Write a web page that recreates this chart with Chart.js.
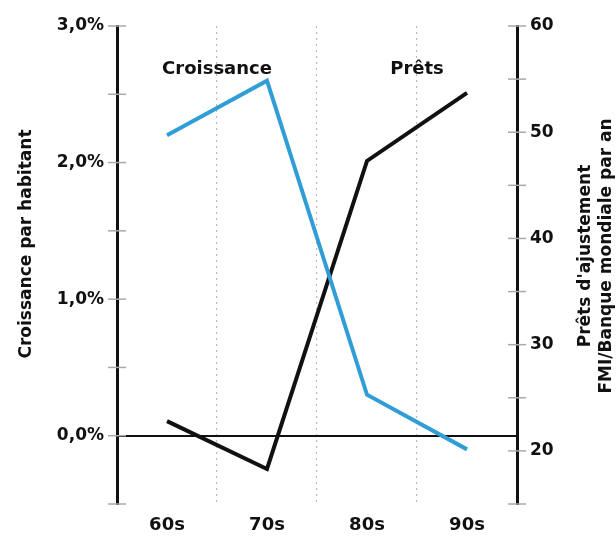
<!DOCTYPE html>
<html>
<head>
<meta charset="utf-8">
<script src="https://cdn.jsdelivr.net/npm/chart.js@4/dist/chart.umd.min.js"></script>
<style>
  body { margin: 0; background: #fff; }
  #wrap { width: 616px; height: 536px; }
</style>
</head>
<body>
<div id="wrap"><canvas id="chart" width="616" height="536"></canvas></div>
<script>
const categories = ['60s', '70s', '80s', '90s'];
const croissance = [2.2, 2.6, 0.3, -0.1];
const prets = [22.8, 18.3, 47.3, 53.7];
const seriesLabels = ['Croissance', 'Prêts'];
const leftTitle = 'Croissance par habitant';
const rightTitle = ["Prêts d'ajustement", 'FMI/Banque mondiale par an'];

const FONT = "'DejaVu Sans', sans-serif";
const INK = '#111';

const fmtPct = (v) => {
    if (Math.abs(v - Math.round(v)) > 1e-9) return '';
    return v.toFixed(1).replace('.', ',') + '%';
};

// short grey tick marks crossing both y axis lines
const crossTicks = {
    id: 'crossTicks',
    afterDraw(chart) {
        const ctx = chart.ctx;
        ctx.save();
        ctx.strokeStyle = '#a9a9a9';
        ctx.lineWidth = 1.5;
        ['y', 'y1'].forEach((id) => {
            const s = chart.scales[id];
            const x = id === 'y' ? chart.chartArea.left : chart.chartArea.right;
            s.ticks.forEach((t) => {
                const py = s.getPixelForValue(t.value);
                ctx.beginPath();
                ctx.moveTo(x - 9, py);
                ctx.lineTo(x + 9, py);
                ctx.stroke();
            });
        });
        ctx.restore();
    }
};

// series names and both axis titles
const texts = {
    id: 'texts',
    afterDatasetsDraw(chart) {
        const ctx = chart.ctx;
        const x = chart.scales.x;
        const y = chart.scales.y;
        ctx.save();
        ctx.fillStyle = INK;
        ctx.font = 'bold 18px ' + FONT;
        ctx.textAlign = 'center';
        ctx.textBaseline = 'middle';
        ctx.fillText(seriesLabels[0], x.getPixelForValue(0.5), y.getPixelForValue(2.68));
        ctx.fillText(seriesLabels[1], x.getPixelForValue(2.5), y.getPixelForValue(2.68));

        ctx.font = 'bold 17px ' + FONT;
        ctx.save();
        ctx.translate(27, 244);
        ctx.rotate(-Math.PI / 2);
        ctx.fillText(leftTitle, 0, 0);
        ctx.restore();

        ctx.translate(586, 256);
        ctx.rotate(-Math.PI / 2);
        ctx.fillText(rightTitle[0], 0, 0);
        ctx.fillText(rightTitle[1], 0, 21);
        ctx.restore();
    }
};

new Chart(document.getElementById('chart'), {
    type: 'line',
    data: {
        labels: categories,
        datasets: [
            {
                label: seriesLabels[0],
                data: croissance,
                yAxisID: 'y',
                borderColor: '#319dd6',
                borderWidth: 4,
                pointRadius: 0,
                tension: 0
            },
            {
                label: seriesLabels[1],
                data: prets,
                yAxisID: 'y1',
                borderColor: INK,
                borderWidth: 4,
                pointRadius: 0,
                tension: 0
            }
        ]
    },
    options: {
        responsive: false,
        animation: false,
        layout: { padding: { left: 0, right: 0, top: 26, bottom: 0 } },
        plugins: {
            legend: { display: false },
            tooltip: { enabled: false }
        },
        scales: {
            x: {
                offset: true,
                afterFit: (s) => { s.height = 32; },
                grid: {
                    offset: true,
                    drawTicks: false,
                    lineWidth: 1.2,
                    color: (c) => (c.index > 0 && c.index < categories.length) ? '#c9b6ad' : 'rgba(0,0,0,0)'
                },
                border: { display: false, dash: [2, 4] },
                ticks: {
                    padding: 11,
                    color: INK,
                    font: { family: FONT, size: 18, weight: 'bold' }
                }
            },
            y: {
                position: 'left',
                min: -0.5,
                max: 3.0,
                afterFit: (s) => { s.width = 117; },
                grid: {
                    drawTicks: false,
                    lineWidth: 2,
                    color: (c) => (c.tick && c.tick.value === 0) ? INK : 'rgba(0,0,0,0)'
                },
                border: { color: INK, width: 3 },
                ticks: {
                    stepSize: 0.5,
                    padding: 13,
                    color: INK,
                    font: { family: FONT, size: 17, weight: 'bold' },
                    callback: fmtPct
                }
            },
            y1: {
                position: 'right',
                min: 15,
                max: 60,
                afterFit: (s) => { s.width = 99; },
                grid: { drawOnChartArea: false, drawTicks: false },
                border: { color: INK, width: 3 },
                ticks: {
                    stepSize: 5,
                    padding: 13,
                    color: INK,
                    font: { family: FONT, size: 17, weight: 'bold' },
                    callback: (v) => (v % 10 === 0 ? String(v) : '')
                }
            }
        }
    },
    plugins: [crossTicks, texts]
});
</script>
</body>
</html>
